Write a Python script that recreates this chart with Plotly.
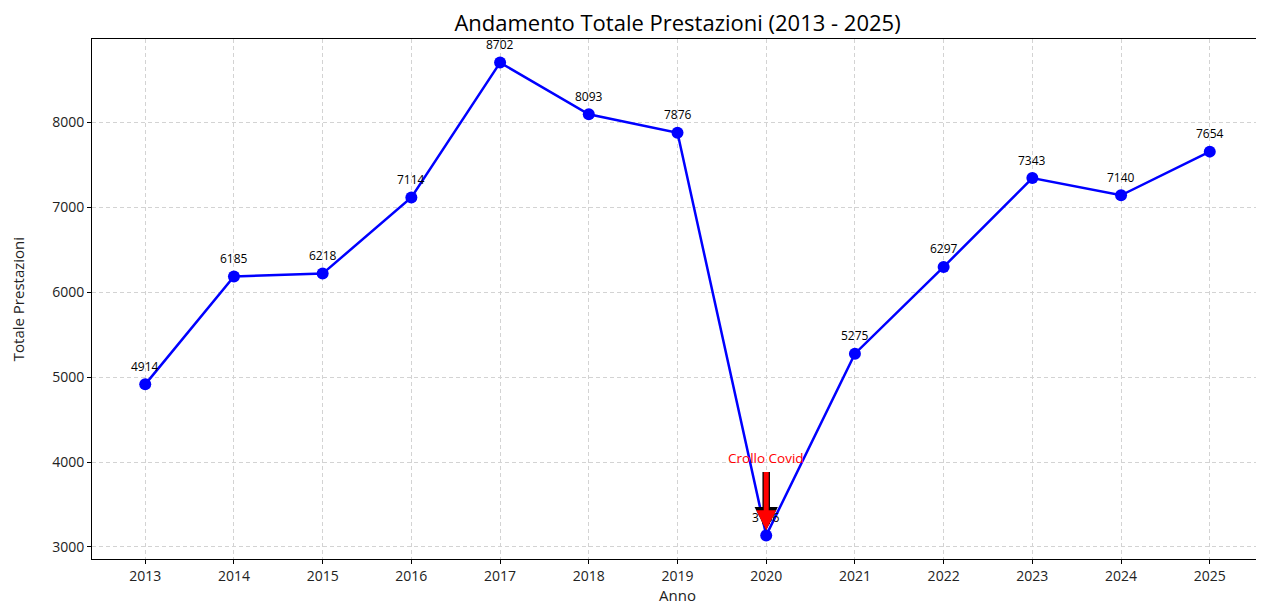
import plotly.graph_objects as go

anni = [2013, 2014, 2015, 2016, 2017, 2018, 2019, 2020, 2021, 2022, 2023, 2024, 2025]
totale = [4914, 6185, 6218, 7114, 8702, 8093, 7876, 3136, 5275, 6297, 7343, 7140, 7654]

FONT = "Open Sans"

fig = go.Figure()
fig.add_trace(go.Scatter(
    x=anni, y=totale, mode="lines+markers",
    line=dict(color="#0000ff", width=2.5),
    marker=dict(color="#0000ff", size=12),
    hoverinfo="x+y", showlegend=False,
))

# etichette dei valori sopra i punti
for a, v in zip(anni, totale):
    fig.add_annotation(x=a, y=v, text=str(v), showarrow=False, yshift=18,
                       font=dict(size=12, color="black", family=FONT))

# freccia "Crollo Covid" (bordo nero + riempimento rosso)
i_covid = anni.index(2020)
for col, w, s in (("black", 7.5, 0.62), ("red", 5, 0.8)):
    fig.add_annotation(x=anni[i_covid], y=totale[i_covid] + 60, ax=anni[i_covid], ay=3900,
                       axref="x", ayref="y", text="", showarrow=True,
                       arrowhead=2, arrowsize=s, arrowwidth=w, arrowcolor=col)
fig.add_annotation(x=anni[i_covid], y=4050, text="Crollo Covid", showarrow=False,
                   font=dict(size=13.5, color="red", family=FONT))

# titoli degli assi
fig.add_annotation(xref="paper", yref="paper", x=0.5, y=-0.07, yanchor="middle",
                   text="Anno", showarrow=False, font=dict(size=15, family=FONT))
fig.add_annotation(xref="paper", yref="paper", x=-0.063, y=0.5, xanchor="center",
                   textangle=-90, text="Totale Prestazioni", showarrow=False,
                   font=dict(size=15, family=FONT))

fig.update_layout(
    width=1264, height=604,
    margin=dict(l=84, r=9, t=31, b=53, autoexpand=False),
    paper_bgcolor="white", plot_bgcolor="white",
    font=dict(family=FONT, size=14, color="#222222"),
    title=dict(text="Andamento Totale Prestazioni (2013 - 2025)", x=0.5, xanchor="center",
               xref="paper", y=0.975, yanchor="middle",
               font=dict(size=22, family=FONT, color="black")),
)
common = dict(
    showline=True, linecolor="black", linewidth=1, mirror=True,
    ticks="outside", ticklen=4, tickcolor="black", automargin=False,
    showgrid=True, gridcolor="#d3d3d3", griddash="4px,3px", gridwidth=1, zeroline=False,
)
fig.update_xaxes(range=[2012.4, 2025.6], tickmode="array", tickvals=anni,
                 ticktext=[str(a) for a in anni], **common)
fig.update_yaxes(range=[2858, 8980], tickvals=[3000, 4000, 5000, 6000, 7000, 8000], **common)

fig.write_html("out.html")
